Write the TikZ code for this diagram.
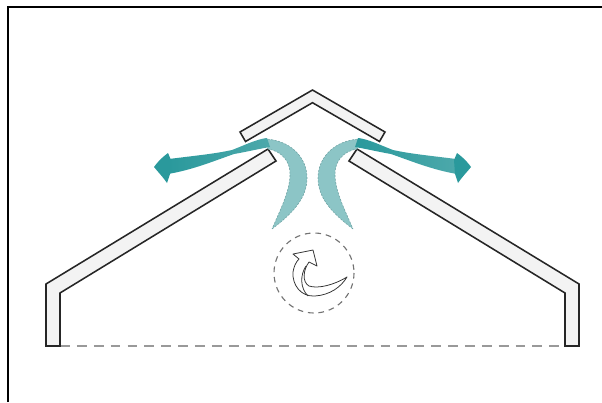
\documentclass[tikz,border=0pt]{standalone}
\usetikzlibrary{calc}

\definecolor{flow}{HTML}{2A999C}
\definecolor{flowlight}{HTML}{8CC5C6}
\definecolor{flowedge}{HTML}{6FA3A4}
\definecolor{panelfill}{HTML}{F3F3F3}

\begin{document}
\begin{tikzpicture}[%
    x=0.025cm, y=-0.025cm,      % one unit is one pixel, y runs down
    line join=miter,
    ]
% -------------------------------------------------
% Styles for the roof and the air flows
\tikzset{
  panel/.style={draw=black!85, fill=panelfill, line width=1.1pt},
  floorline/.style={draw=black!40, line width=0.8pt, dash pattern=on 7pt off 5pt},
  eddy/.style={draw=black!55, line width=0.8pt, dash pattern=on 4pt off 3.5pt},
  swirl/.style={draw=black!80, line width=0.55pt, line join=round},
  sickle/.style={fill=flowlight, draw=flowedge, line width=0.4pt,
                 dash pattern=on 1.5pt off 1pt},
  ribbon/.style={left color=flow, right color=flow!65!flowlight},
  head/.style={fill=flow}
}
\useasboundingbox (0,0) rectangle (602,402);
% -------------------------------------------------
% Frame (only top and left edge show)
\draw[line width=2pt] (8,402) -- (8,7) -- (602,7);
% -------------------------------------------------
% Floor line between the walls
\coordinate (floorL) at (60,346);
\coordinate (floorR) at (565,346);
\draw[floorline] (floorL) -- (floorR);
% -------------------------------------------------
% Roof: two slopes with walls, and the ridge cap
\draw[panel] (46,346) -- (46,284) -- (268,149) -- (276,161)
             -- (60,293) -- (60,346) -- cycle;
\draw[panel] (579,346) -- (579,284) -- (357,149) -- (349,161)
             -- (565,293) -- (565,346) -- cycle;
\coordinate (apex) at (312.5,90);
\draw[panel] (240,132) -- (apex) -- (385,132) -- (379.5,141.5)
             -- (312.5,102.7) -- (245.5,141.5) -- cycle;
% -------------------------------------------------
% Air rising through the ridge, out to both sides
\foreach \s/\o in {1/0, -1/625} {
  \begin{scope}[shift={(\o,0)}, xscale=\s]
    % curved updraft under the ridge
    \path[sickle] (272,229) .. controls (293,213) and (307,198) .. (307,178)
        .. controls (307,157) and (290,140) .. (265,139)
        -- (268,149) .. controls (281,151) and (291,161) .. (290,176)
        .. controls (289,193) and (281,208) .. (272,229);
    % twisted stream leaving the gap
    \path[ribbon] (169,159) .. controls (192,156) and (214,154) .. (232,150)
        .. controls (245,145) and (257,139) .. (267,138)
        -- (270,147) .. controls (258,149) and (246,152) .. (234,154)
        .. controls (214,161) and (192,170) .. (168,174) -- cycle;
    % arrow head
    \path[head] (154,167) .. controls (159,160) and (164,156) .. (168,153)
        -- (171,160) -- (170,174) -- (167,183)
        .. controls (163,177) and (158,172) .. (154,167) -- cycle;
  \end{scope}
}
% -------------------------------------------------
% Eddy in the attic
\coordinate (eddy) at (314,273);
\draw[eddy] (eddy) circle [radius=40];
\draw[swirl] (293,254) -- (313,250) -- (317,266) -- (309,262)
    .. controls (303,270) and (302,282) .. (309,286)
    .. controls (318,289) and (334,285) .. (347,277)
    .. controls (341,287) and (330,295) .. (315,296)
    .. controls (301,297) and (292,285) .. (293,272)
    .. controls (294,266) and (296,262) .. (299,259) -- cycle;
\draw[swirl] (306,266) .. controls (300,275) and (300,288) .. (308,296);
% -------------------------------------------------
\end{tikzpicture}
\end{document}
